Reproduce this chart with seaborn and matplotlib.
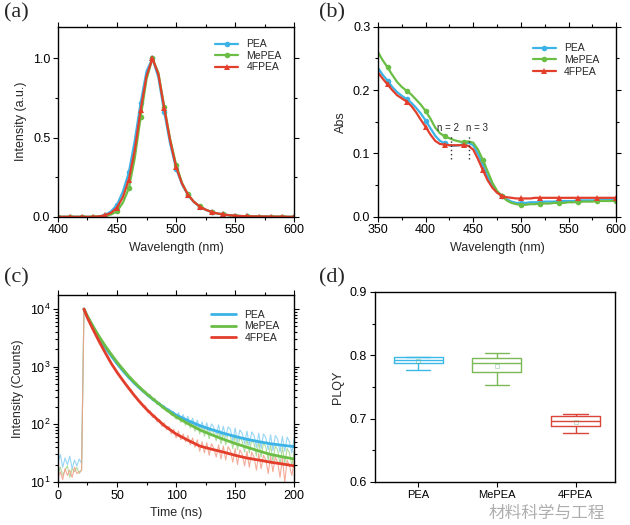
import numpy as np
import pandas as pd
import seaborn as sns
import matplotlib.pyplot as plt
from matplotlib.ticker import MultipleLocator, AutoMinorLocator

# ---- series names / colours ----
names = ['PEA', 'MePEA', '4FPEA']
line_colors = ['#3cb3e6', '#6abd45', '#e23e2b']
raw_colors = ['#84cff3', '#9fd68c', '#f39c86']
box_colors = ['#3ab8e8', '#7bb957', '#d9453a']

# ---- (a) PL spectra, 400-600 nm every 5 nm ----
pl_wl = np.arange(400, 605, 5)
pl_pea = [0, 0, 0, 0, 0, 0, 0, 0.003, 0.012, 0.035, 0.075, 0.16, 0.28, 0.48, 0.72, 0.92, 1.0,
          0.88, 0.66, 0.46, 0.305, 0.205, 0.138, 0.094, 0.064, 0.044, 0.030, 0.021, 0.015,
          0.010, 0.007, 0.005, 0.004, 0.003, 0.002, 0.002, 0.001, 0.001, 0.001, 0, 0]
pl_mepea = [0, 0, 0, 0, 0, 0, 0, 0.002, 0.006, 0.015, 0.035, 0.09, 0.18, 0.37, 0.63, 0.87, 1.0,
            0.91, 0.695, 0.49, 0.33, 0.215, 0.142, 0.096, 0.066, 0.046, 0.031, 0.021, 0.015,
            0.010, 0.007, 0.005, 0.004, 0.003, 0.002, 0.002, 0.001, 0.001, 0.001, 0, 0]
pl_4fpea = [0, 0, 0, 0, 0, 0, 0, 0.003, 0.010, 0.025, 0.058, 0.125, 0.235, 0.42, 0.675, 0.89, 1.0,
            0.90, 0.685, 0.48, 0.315, 0.21, 0.14, 0.095, 0.065, 0.045, 0.031, 0.021, 0.015,
            0.010, 0.007, 0.005, 0.004, 0.003, 0.002, 0.002, 0.001, 0.001, 0.001, 0, 0]

# ---- (b) absorbance, 350-600 nm every 5 nm ----
abs_wl = np.arange(350, 605, 5)
abs_pea = [0.235, 0.224, 0.215, 0.205, 0.197, 0.191, 0.186, 0.180, 0.172, 0.163, 0.152, 0.140,
           0.128, 0.120, 0.116, 0.113, 0.112, 0.113, 0.115, 0.117, 0.113, 0.099, 0.082, 0.064,
           0.049, 0.039, 0.033, 0.028, 0.024, 0.022, 0.022, 0.022, 0.023, 0.023, 0.023, 0.024,
           0.024, 0.024, 0.025, 0.025, 0.025, 0.025, 0.026, 0.026, 0.026, 0.026, 0.026, 0.027,
           0.027, 0.027, 0.027]
abs_mepea = [0.260, 0.247, 0.236, 0.224, 0.213, 0.205, 0.199, 0.193, 0.185, 0.177, 0.167, 0.155,
             0.141, 0.132, 0.127, 0.124, 0.121, 0.119, 0.118, 0.119, 0.117, 0.106, 0.090, 0.072,
             0.054, 0.041, 0.033, 0.026, 0.022, 0.020, 0.019, 0.019, 0.020, 0.020, 0.021, 0.021,
             0.021, 0.022, 0.022, 0.022, 0.023, 0.023, 0.023, 0.024, 0.024, 0.024, 0.025, 0.025,
             0.025, 0.025, 0.025]
abs_4fpea = [0.228, 0.218, 0.209, 0.200, 0.192, 0.187, 0.182, 0.175, 0.165, 0.153, 0.142, 0.130,
             0.120, 0.115, 0.114, 0.113, 0.113, 0.113, 0.113, 0.112, 0.106, 0.091, 0.074, 0.058,
             0.046, 0.038, 0.033, 0.031, 0.030, 0.029, 0.029, 0.029, 0.029, 0.030, 0.030, 0.030,
             0.030, 0.030, 0.030, 0.030, 0.030, 0.030, 0.030, 0.030, 0.030, 0.030, 0.030, 0.030,
             0.030, 0.030, 0.030]
exciton_wl = [427, 446]
exciton_labels = ['n = 2', 'n = 3']

# ---- (c) TRPL raw counts, 0-200 ns every 2 ns ----
trpl_t = np.arange(0, 202, 2)
raw_pea = [22, 30, 18, 26, 20, 28, 17, 24, 19, 25,
           21,
           9900, 7950, 6600, 5420, 4720, 3930, 3400, 2900, 2520, 2140,
           1900, 1650, 1475, 1280, 1140, 995, 915, 795, 735, 640,
           620, 505, 512, 425, 432, 360, 372, 308, 320, 258,
           272, 222, 238, 196, 210, 170, 186, 150, 166, 134,
           160, 118, 148, 108, 138, 98, 128, 90, 118, 84,
           110, 80, 106, 74, 102, 88, 68, 98, 62, 92,
           60, 90, 82, 52, 86, 50, 80, 70, 46, 76,
           44, 74, 64, 40, 70, 38, 68, 58, 36, 66,
           35, 64, 55, 33, 62, 34, 60, 50, 32, 58]
raw_mepea = [14, 18, 13, 16, 19, 12, 17, 15, 18, 14,
             16,
             9900, 8150, 6820, 5680, 4920, 4130, 3570, 3060, 2690, 2290,
             2050, 1770, 1575, 1360, 1210, 1055, 970, 840, 775, 665,
             650, 520, 540, 430, 450, 360, 378, 305, 330, 262,
             282, 220, 240, 190, 205, 165, 180, 142, 162, 122,
             148, 108, 132, 96, 124, 86, 112, 76, 102, 68,
             96, 62, 90, 56, 84, 70, 52, 78, 46, 72,
             44, 70, 62, 38, 66, 36, 60, 50, 33, 56,
             32, 54, 46, 28, 50, 27, 48, 40, 24, 44,
             23, 42, 36, 20, 40, 21, 38, 32, 19, 35]
raw_4fpea = [12, 15, 11, 17, 13, 16, 12, 18, 14, 15,
             16,
             9800, 7850, 6350, 5000, 4280, 3520, 2930, 2470, 2040, 1760,
             1470, 1260, 1070, 940, 790, 715, 610, 560, 470, 430,
             400, 318, 310, 250, 248, 200, 210, 160, 172, 132,
             145, 110, 122, 92, 106, 80, 92, 68, 82, 58,
             76, 54, 68, 50, 64, 44, 58, 40, 54, 34,
             50, 32, 48, 29, 46, 38, 27, 44, 25, 42,
             24, 41, 35, 22, 38, 20, 36, 30, 19, 34,
             18, 33, 27, 16, 31, 17, 29, 24, 14, 28,
             15, 27, 22, 12, 26, 10, 24, 19, 13, 23]

# fitted decays
fit_t = [22, 25, 30, 35, 40, 45, 50, 55, 60, 65, 70, 75, 80, 90, 100, 110, 120, 130, 140,
         150, 160, 170, 180, 190, 200]
fit_pea = [10000, 7300, 4700, 3100, 2150, 1550, 1130, 850, 650, 510, 410, 335, 275, 195, 145,
           116, 95, 81, 70, 61.5, 55, 50, 46, 43.3, 41]
fit_mepea = [10000, 7500, 4900, 3300, 2300, 1650, 1200, 900, 680, 530, 420, 340, 280, 190, 135,
             103, 80, 66, 55, 46.5, 40, 34.5, 30, 27.3, 25]
fit_4fpea = [10000, 7000, 4300, 2700, 1750, 1150, 800, 575, 420, 310, 235, 182, 145, 95, 68,
             53, 42, 37, 33, 29, 26, 24, 22, 20.5, 19]

# ---- (d) PLQY ----
plqy_pea = [0.777, 0.787, 0.792, 0.797, 0.798]
plqy_mepea = [0.753, 0.774, 0.788, 0.796, 0.803]
plqy_4fpea = [0.678, 0.688, 0.697, 0.704, 0.708]

sns.set_theme(style='ticks')
plt.rcParams['font.family'] = ['Liberation Sans', 'Noto Sans CJK SC', 'DejaVu Sans']
plt.rcParams['axes.linewidth'] = 1.0
plt.rcParams['xtick.major.size'] = 3.5
plt.rcParams['ytick.major.size'] = 3.5
plt.rcParams['xtick.minor.size'] = 2
plt.rcParams['ytick.minor.size'] = 2

fig = plt.figure(figsize=(6.3, 5.25), dpi=100)
ax_a = fig.add_axes([0.092, 0.587, 0.375, 0.362])
ax_b = fig.add_axes([0.600, 0.587, 0.378, 0.362])
ax_c = fig.add_axes([0.092, 0.082, 0.375, 0.356])
ax_d = fig.add_axes([0.595, 0.082, 0.381, 0.362])

fs = 9


def style_axis(ax, mirror=True):
    ax.tick_params(which='both', direction='out', labelsize=fs, width=0.8,
                   colors='black', pad=2)
    if mirror:
        ax.tick_params(which='both', top=True, right=True)
    for s in ax.spines.values():
        s.set_color('black')
        s.set_linewidth(1.0)


# (a)
markers = ['o', 'o', '^']
for vals, name, c, m in zip([pl_pea, pl_mepea, pl_4fpea], names, line_colors, markers):
    sns.lineplot(x=pl_wl, y=vals, color=c, marker=m, markevery=2, markersize=4,
                 markeredgewidth=0, linewidth=1.6, label=name, ax=ax_a)
ax_a.set_xlim(400, 600)
ax_a.set_ylim(0, 1.2)
ax_a.xaxis.set_major_locator(MultipleLocator(50))
ax_a.yaxis.set_major_locator(MultipleLocator(0.5))
ax_a.xaxis.set_minor_locator(AutoMinorLocator(2))
ax_a.yaxis.set_minor_locator(AutoMinorLocator(2))
ax_a.set_xlabel('Wavelength (nm)', fontsize=fs)
ax_a.set_ylabel('Intensity (a.u.)', fontsize=fs)
ax_a.legend(loc='upper right', frameon=False, fontsize=7.5, handlelength=2.2,
            labelspacing=0.15, borderaxespad=0.8)
style_axis(ax_a)

# (b)
for vals, name, c, m in zip([abs_pea, abs_mepea, abs_4fpea], names, line_colors, markers):
    sns.lineplot(x=abs_wl, y=vals, color=c, marker=m, markevery=(2, 4), markersize=4,
                 markeredgewidth=0, linewidth=1.6, label=name, ax=ax_b)
ax_b.vlines(exciton_wl, 0.092, 0.128, colors='#333333', linestyles=(0, (1, 2)), linewidth=1.0)
ax_b.text(exciton_wl[0] - 4, 0.132, exciton_labels[0], ha='center', va='bottom', fontsize=7)
ax_b.text(exciton_wl[1] + 8, 0.132, exciton_labels[1], ha='center', va='bottom', fontsize=7)
ax_b.set_xlim(350, 600)
ax_b.set_ylim(0, 0.3)
ax_b.xaxis.set_major_locator(MultipleLocator(50))
ax_b.yaxis.set_major_locator(MultipleLocator(0.1))
ax_b.xaxis.set_minor_locator(AutoMinorLocator(2))
ax_b.yaxis.set_minor_locator(AutoMinorLocator(2))
ax_b.set_xlabel('Wavelength (nm)', fontsize=fs)
ax_b.set_ylabel('Abs', fontsize=fs)
ax_b.legend(loc='upper right', frameon=False, fontsize=7.5, handlelength=2.2,
            labelspacing=0.15, borderaxespad=1.2)
style_axis(ax_b)

# (c)
ax_c.set_yscale('log')
for vals, c in zip([raw_pea, raw_mepea, raw_4fpea], raw_colors):
    sns.lineplot(x=trpl_t, y=vals, color=c, linewidth=0.8, alpha=0.85, ax=ax_c)
for vals, name, c in zip([fit_pea, fit_mepea, fit_4fpea], names, line_colors):
    sns.lineplot(x=fit_t, y=vals, color=c, linewidth=2.0, label=name, ax=ax_c)
ax_c.set_xlim(0, 200)
ax_c.set_ylim(10, 1.75e4)
ax_c.xaxis.set_major_locator(MultipleLocator(50))
ax_c.xaxis.set_minor_locator(AutoMinorLocator(2))
ax_c.set_xlabel('Time (ns)', fontsize=fs)
ax_c.set_ylabel('Intensity (Counts)', fontsize=fs)
ax_c.legend(loc='upper right', frameon=False, fontsize=7.5, handlelength=2.4,
            labelspacing=0.15, borderaxespad=1.0)
style_axis(ax_c)

# (d)
plqy_df = pd.DataFrame({
    'group': [names[0]] * len(plqy_pea) + [names[1]] * len(plqy_mepea) + [names[2]] * len(plqy_4fpea),
    'PLQY': plqy_pea + plqy_mepea + plqy_4fpea,
})
sns.boxplot(data=plqy_df, x='group', y='PLQY', hue='group', palette=box_colors, fill=False,
            width=0.62, linewidth=1.0, whis=1.5, showmeans=True, legend=False,
            meanprops=dict(marker='s', markersize=2.5, markerfacecolor='none',
                           markeredgewidth=0.5, alpha=0.5),
            ax=ax_d)
ax_d.set_ylim(0.6, 0.9)
ax_d.set_xlim(-0.55, 2.5)
ax_d.yaxis.set_major_locator(MultipleLocator(0.1))
ax_d.yaxis.set_minor_locator(AutoMinorLocator(2))
ax_d.set_xlabel('')
ax_d.set_ylabel('PLQY', fontsize=fs)
style_axis(ax_d, mirror=False)
ax_d.tick_params(axis='x', labelsize=8)

# panel labels
for lbl, x, y in [('(a)', 0.006, 0.958), ('(b)', 0.506, 0.958),
                  ('(c)', 0.006, 0.452), ('(d)', 0.506, 0.452)]:
    fig.text(x, y, lbl, fontsize=16, family='Liberation Serif', va='bottom')

# watermark
fig.text(0.775, 0.022, '材料科学与工程', fontsize=12, color='#9a9a9a', alpha=0.8,
         family=['Noto Sans CJK SC', 'DejaVu Sans'], va='center')

fig.savefig('out.png', dpi=100)
